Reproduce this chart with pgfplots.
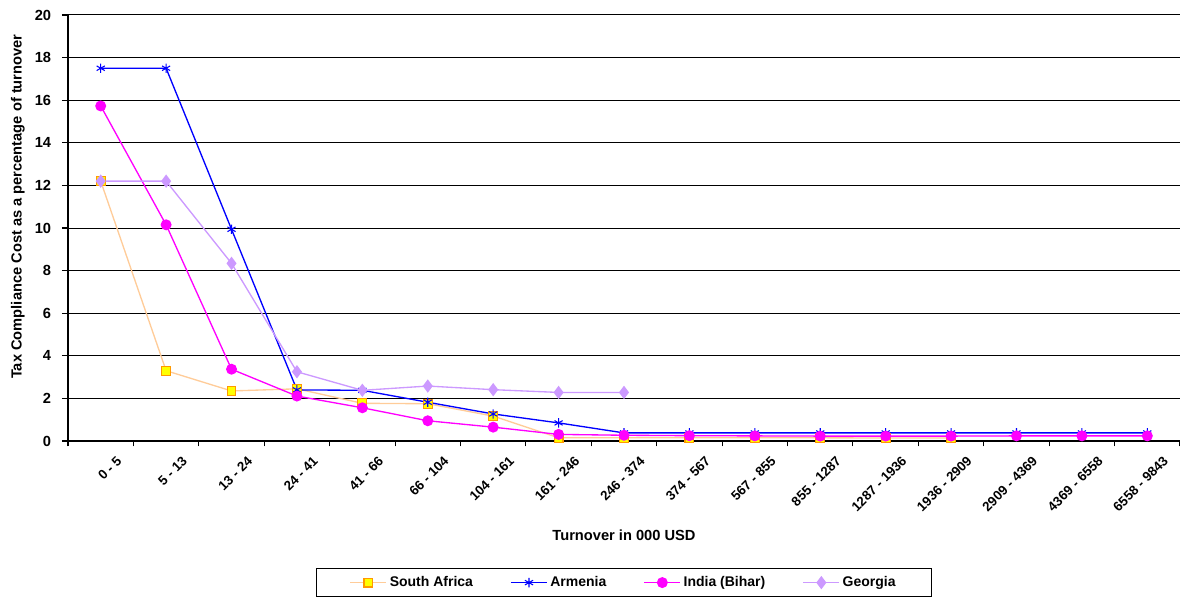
\documentclass[border=0pt]{standalone}
\usepackage{pgfplots}
\pgfplotsset{compat=1.18}
\usepackage{fontspec}
\setmainfont{Liberation Sans}

\definecolor{saline}{HTML}{FFCC99}
\definecolor{samark}{HTML}{FF9900}
\definecolor{safill}{HTML}{FFFF00}
\definecolor{armblue}{HTML}{0000FF}
\definecolor{indmag}{HTML}{FF00FF}
\definecolor{geolav}{HTML}{CC99FF}

\begin{document}
\begin{tikzpicture}
\begin{axis}[
    scale only axis,
    width=834pt, height=319.5pt,
    xmin=-0.5, xmax=16.5,
    ymin=0, ymax=20,
    ytick={0,2,...,20},
    xtick={0,...,16},
    xticklabels={0 - 5, 5 - 13, 13 - 24, 24 - 41, 41 - 66, 66 - 104, 104 - 161, 161 - 246, 246 - 374, 374 - 567, 567 - 855, 855 - 1287, 1287 - 1936, 1936 - 2909, 2909 - 4369, 4369 - 6558, 6558 - 9843},
    minor xtick={-0.5,0.5,...,16.5},
    axis lines*=left,
    axis line style={line width=1.5pt, black},
    tick align=outside,
    major x tick style={draw=none},
    minor x tick style={line width=0.8pt, black},
    minor tick length=4pt,
    major tick length=4.5pt,
    y tick style={line width=0.8pt, black},
    ymajorgrids,
    major grid style={line width=0.75pt, black},
    font=\fontsize{11}{13}\selectfont\bfseries,
    /pgf/number format/assume math mode=true,
    x tick label style={font=\fontsize{10}{12}\selectfont\bfseries,
        rotate=45, anchor=east, inner sep=0pt, xshift=3.75pt, yshift=-16pt},
    y tick label style={font=\fontsize{11}{13}\selectfont\bfseries, inner sep=0pt, xshift=-8pt},
    xlabel={Turnover in 000 USD},
    ylabel={Tax Compliance Cost as a percentage of turnover},
    xlabel style={at={(axis description cs:0.5,-0.2207)}, anchor=center},
    ylabel style={at={(axis description cs:-0.045,0.55)}, anchor=center},
    legend columns=4,
    legend style={at={(0.5,-0.2981)}, anchor=north, draw=black, line width=0.8pt,
        font=\fontsize{10.5}{12.5}\selectfont\bfseries,
        inner xsep=25pt, inner ysep=4pt,
        /tikz/every even column/.append style={column sep=26pt}},
    legend image code/.code={\draw[mark repeat=2, mark phase=2] plot coordinates {(0pt,0pt) (13.5pt,0pt) (27pt,0pt)};},
    clip=false,
]
% South Africa
\addplot[color=saline, line width=1pt, mark=square*, mark size=3.3pt,
    mark options={fill=safill, draw=samark, line width=0.8pt}] coordinates {
    (0,12.2) (1,3.3) (2,2.35) (3,2.45) (4,1.77) (5,1.75) (6,1.17) (7,0.15)
    (8,0.15) (9,0.15) (10,0.15) (11,0.15) (12,0.14) (13,0.14)
};
\addlegendentry{South Africa}
% Armenia
\addplot[color=armblue, line width=1pt, mark=asterisk, mark size=3.5pt,
    mark options={line width=0.8pt}] coordinates {
    (0,17.5) (1,17.5) (2,9.94) (3,2.4) (4,2.38) (5,1.82) (6,1.27) (7,0.85)
    (8,0.38) (9,0.38) (10,0.38) (11,0.38) (12,0.38) (13,0.38) (14,0.38) (15,0.38) (16,0.38)
};
\addlegendentry{Armenia}
% India (Bihar)
\addplot[color=indmag, line width=1pt, mark=*, mark size=3.6pt,
    mark options={fill=indmag, draw=indmag}] coordinates {
    (0,15.73) (1,10.15) (2,3.37) (3,2.11) (4,1.56) (5,0.95) (6,0.65) (7,0.31)
    (8,0.27) (9,0.25) (10,0.24) (11,0.23) (12,0.23) (13,0.23) (14,0.24) (15,0.24) (16,0.24)
};
\addlegendentry{India (Bihar)}
% Georgia
\addplot[color=geolav, line width=1pt, mark=diamond*, mark size=4.2pt,
    mark options={fill=geolav, draw=geolav}] coordinates {
    (0,12.2) (1,12.2) (2,8.34) (3,3.25) (4,2.38) (5,2.58) (6,2.41) (7,2.28) (8,2.28)
};
\addlegendentry{Georgia}
\end{axis}
\pgfresetboundingbox
\path (-51pt,-116.25pt) rectangle (834pt,330.75pt);
\end{tikzpicture}
\end{document}
